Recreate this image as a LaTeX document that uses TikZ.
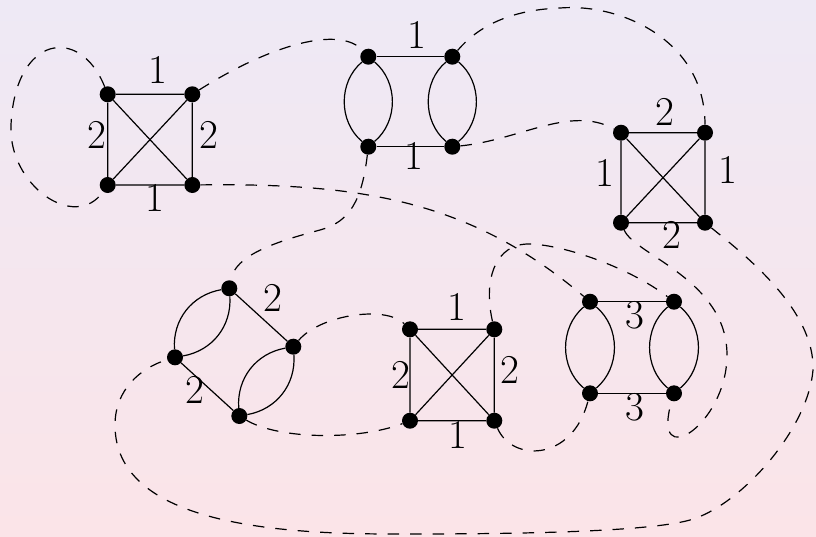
\documentclass[tikz,border=0pt]{standalone}
\usetikzlibrary{calc}
\definecolor{bgtop}{RGB}{238,233,245}
\definecolor{bgbot}{RGB}{251,228,232}
\begin{document}
\begin{tikzpicture}[x=1pt,y=-1pt,
  dot/.style={circle,fill=black,inner sep=0pt,minimum size=16pt},
  edge/.style={line width=1.2pt},
  link/.style={line width=1.2pt,dash pattern=on 11.5pt off 11pt},
  lbl/.style={inner sep=0pt,font=\fontsize{41}{49}\selectfont}]
\shade[top color=bgtop,bottom color=bgbot] (0,0) rectangle (816,536);
\useasboundingbox (0,0) rectangle (816,536);

% ---- vertices ----
% A: K4, top left
\node[dot] (aTL) at (107.7,94.3) {};
\node[dot] (aTR) at (192.3,94.3) {};
\node[dot] (aBL) at (107.7,185) {};
\node[dot] (aBR) at (192.3,185) {};
% B: two double edges, top middle
\node[dot] (bTL) at (368.3,56.7) {};
\node[dot] (bTR) at (452.3,56.7) {};
\node[dot] (bBL) at (368.3,146.7) {};
\node[dot] (bBR) at (452.3,146.7) {};
% C: K4, right
\node[dot] (cTL) at (621,132.7) {};
\node[dot] (cTR) at (705,132.7) {};
\node[dot] (cBL) at (621,222.7) {};
\node[dot] (cBR) at (705,222.7) {};
% D: tilted square with double edges
\node[dot] (dT) at (229.3,288.3) {};
\node[dot] (dL) at (175,357.3) {};
\node[dot] (dR) at (293.3,346.7) {};
\node[dot] (dB) at (239.3,416) {};
% E: K4, bottom middle
\node[dot] (eTL) at (410,329.3) {};
\node[dot] (eTR) at (494.3,329.3) {};
\node[dot] (eBL) at (410,420.7) {};
\node[dot] (eBR) at (494.3,420.7) {};
% F: two double edges, bottom right
\node[dot] (fTL) at (590,301.7) {};
\node[dot] (fTR) at (674,301.7) {};
\node[dot] (fBL) at (590,393.3) {};
\node[dot] (fBR) at (674,393.3) {};

% ---- solid edges ----
\foreach \g in {a,c,e}{
  \draw[edge] (\g TL) -- (\g TR) -- (\g BR) -- (\g BL) -- (\g TL) -- (\g BR);
  \draw[edge] (\g TR) -- (\g BL);
}
\foreach \g in {b,f}{
  \draw[edge] (\g TL) -- (\g TR);
  \draw[edge] (\g BL) -- (\g BR);
  \draw[edge] (\g TL) to[bend left=50] (\g BL);
  \draw[edge] (\g TL) to[bend right=50] (\g BL);
  \draw[edge] (\g TR) to[bend left=50] (\g BR);
  \draw[edge] (\g TR) to[bend right=50] (\g BR);
}
\draw[edge] (dT) -- (dR);
\draw[edge] (dL) -- (dB);
\draw[edge] (dT) to[bend left=42] (dL);
\draw[edge] (dT) to[bend right=42] (dL);
\draw[edge] (dR) to[bend left=42] (dB);
\draw[edge] (dR) to[bend right=42] (dB);

% ---- labels ----
\node[lbl] (la1) at (158,70) {1};
\node[lbl] (la2) at (97,135) {2};
\node[lbl] (la3) at (209,135) {2};
\node[lbl] (la4) at (155,198) {1};
\node[lbl] (lb1) at (417,35) {1};
\node[lbl] (lb2) at (414,156) {1};
\node[lbl] (lc1) at (665,112) {2};
\node[lbl] (lc2) at (605,173) {1};
\node[lbl] (lc3) at (728,170) {1};
\node[lbl] (lc4) at (672,235) {2};
\node[lbl] (ld1) at (273,298) {2};
\node[lbl] (ld2) at (195,390) {2};
\node[lbl] (le1) at (457,307) {1};
\node[lbl] (le2) at (401,375) {2};
\node[lbl] (le3) at (510,370) {2};
\node[lbl] (le4) at (458,435) {1};
\node[lbl] (lf1) at (635,315) {3};
\node[lbl] (lf2) at (635,407) {3};

% ---- dashed connections ----
\draw[link] (aTL) .. controls (80,25) and (15,35) .. (11,125)
                  .. controls (8,185) and (75,232) .. (aBL);
\draw[link] (aTR) .. controls (270,45) and (340,25) .. (bTL);
\draw[link] (aBR) .. controls (360,183) and (470,200) .. (fTL);
\draw[link] (bTR) .. controls (475,30) and (505,10) .. (560,8)
                  .. controls (620,3) and (705,40) .. (cTR);
\draw[link] (bBR) .. controls (520,140) and (570,105) .. (cTL);
\draw[link] (bBL) .. controls (362,200) and (350,222) .. (320,230)
                  .. controls (275,242) and (235,255) .. (dT);
\draw[link] (cBL) .. controls (635,255) and (727,280) .. (727,355)
                  .. controls (727,425) and (650,474) .. (fBR);
\draw[link] (cBR) .. controls (745,255) and (815,310) .. (813,370)
                  .. controls (808,430) and (740,506) .. (690,520)
                  .. controls (640,534) and (470,534) .. (393,534)
                  .. controls (270,534) and (115,522) .. (115,425)
                  .. controls (115,390) and (140,368) .. (dL);
\draw[link] (dR) .. controls (320,315) and (385,305) .. (eTL);
\draw[link] (dB) .. controls (280,440) and (360,440) .. (eBL);
\draw[link] (eTR) .. controls (483,280) and (495,243) .. (530,244)
                  .. controls (565,245) and (630,268) .. (fTR);
\draw[link] (eBR) .. controls (512,462) and (572,462) .. (fBL);
\end{tikzpicture}
\end{document}
